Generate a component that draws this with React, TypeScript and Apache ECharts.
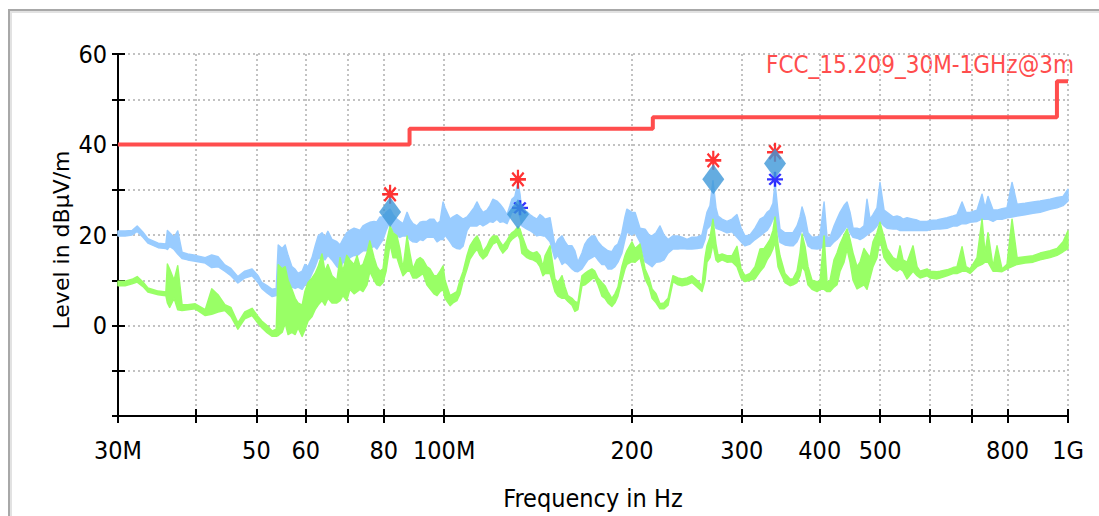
import React, { useEffect, useRef } from "react";
import * as echarts from "echarts";

// Frequency points (MHz) shared by both measured traces
const freqMHz = [
  30.0, 30.8, 31.6, 32.2, 32.9, 33.5, 34.8, 35.8, 36.0, 36.3,
  36.9, 37.4, 38.0, 38.8, 39.9, 41.4, 42.4, 43.4, 44.5, 45.5,
  46.7, 47.9, 49.2, 50.3, 51.0, 52.0, 53.0, 53.8, 54.2, 55.0,
  55.6, 56.2, 57.0, 57.7, 58.3, 59.2, 59.8, 60.5, 61.4, 62.1,
  62.8, 63.7, 64.4, 65.1, 66.1, 67.3, 68.1, 68.8, 69.8, 70.6,
  71.7, 72.5, 73.3, 74.1, 75.2, 76.0, 77.2, 78.0, 78.9, 79.8,
  80.7, 81.9, 82.8, 84.0, 84.9, 85.9, 87.2, 88.1, 89.1, 90.4,
  91.5, 92.5, 93.8, 94.9, 96.3, 97.4, 98.5, 99.6, 100.3, 102.2,
  103.3, 104.8, 106.0, 107.2, 108.8, 110.0, 111.6, 112.9, 114.1, 115.4,
  117.1, 118.4, 119.7, 121.5, 122.9, 124.2, 126.1, 127.5, 128.4, 129.8,
  131.3, 132.3, 133.2, 135.7, 137.2, 138.8, 140.8, 142.4, 144.0, 145.1,
  147.8, 150.5, 152.2, 154.5, 156.2, 157.9, 160.3, 162.0, 163.8, 166.3,
  168.1, 170.0, 172.5, 174.4, 176.4, 179.0, 181.0, 183.0, 185.7, 187.8,
  189.9, 192.7, 194.9, 196.3, 200.0, 202.3, 206.0, 209.9, 213.0, 215.4,
  218.6, 221.8, 225.1, 228.5, 232.7, 237.1, 240.6, 245.1, 249.6, 254.3,
  259.0, 261.9, 263.8, 266.8, 269.7, 272.7, 274.8, 278.9, 284.0, 289.3,
  294.7, 299.1, 303.5, 309.2, 315.0, 320.9, 325.6, 329.3, 332.9, 336.6,
  339.1, 342.9, 345.4, 351.8, 358.4, 362.4, 367.8, 371.9, 374.7, 378.8,
  383.0, 388.7, 396.0, 400.4, 406.4, 410.9, 415.5, 421.6, 426.3, 431.1,
  437.5, 442.4, 447.3, 452.3, 459.0, 464.1, 471.0, 476.2, 481.5, 486.9,
  494.1, 499.6, 507.1, 512.7, 524.2, 532.0, 537.9, 543.9, 552.0, 564.4,
  572.8, 579.2, 594.4, 601.0, 616.7, 623.5, 639.9, 654.2, 663.9, 676.3,
  686.3, 696.5, 714.8, 728.1, 736.2, 744.4, 758.2, 769.5, 783.8, 798.4,
  813.4, 828.6, 853.4, 878.9, 902.2, 936.0, 960.5, 981.9, 1000.0,
];

// Peak trace (light blue): lower / upper edge of the noisy band, dBµV/m
const peakLow = [
  19.8, 19.8, 20.0, 20.8, 19.5, 18.2, 17.2, 17.0, 16.8, 17.5,
  16.8, 15.8, 14.8, 14.5, 14.2, 13.8, 12.8, 13.0, 12.0, 11.0,
  9.4, 10.5, 11.0, 9.5, 8.2, 7.2, 6.4, 6.6, 7.0, 9.0,
  10.0, 9.0, 8.5, 8.2, 8.5, 8.0, 9.0, 9.5, 11.5, 13.0,
  14.8, 15.0, 14.5, 15.5, 14.5, 13.0, 12.5, 14.0, 13.5, 15.0,
  15.5, 15.4, 16.0, 16.5, 16.5, 17.0, 17.5, 16.9, 18.0, 19.0,
  21.0, 23.0, 21.0, 19.8, 19.5, 19.8, 19.8, 19.0, 18.5, 18.4,
  19.0, 18.8, 19.5, 19.5, 19.5, 18.5, 19.0, 19.0, 20.0, 18.5,
  17.5, 17.0, 16.9, 17.5, 21.0, 22.0, 22.0, 22.0, 22.5, 22.0,
  22.5, 23.0, 22.8, 23.5, 22.8, 23.0, 22.5, 24.0, 25.1, 25.0,
  25.5, 24.0, 22.0, 21.3, 21.0, 20.5, 19.8, 20.0, 19.8, 19.8,
  18.5, 14.7, 15.5, 13.5, 14.0, 13.5, 12.5, 12.0, 11.9, 12.5,
  13.5, 14.5, 15.0, 15.4, 14.5, 13.5, 13.5, 12.5, 12.5, 13.0,
  14.0, 16.0, 19.0, 20.7, 20.0, 20.5, 18.5, 14.1, 13.5, 13.0,
  14.0, 14.1, 14.5, 16.0, 16.9, 16.9, 17.0, 16.9, 16.9, 17.0,
  17.2, 19.0, 21.3, 22.0, 23.0, 21.5, 21.3, 21.0, 20.5, 20.7,
  19.5, 18.5, 17.6, 18.0, 19.0, 19.8, 20.5, 21.0, 22.0, 23.5,
  24.0, 20.5, 18.4, 17.8, 17.6, 17.6, 18.5, 20.0, 21.3, 19.5,
  17.6, 17.0, 16.9, 17.0, 17.5, 17.5, 17.5, 18.5, 19.0, 19.8,
  21.0, 22.0, 20.5, 19.5, 19.3, 19.0, 19.5, 20.0, 20.5, 21.0,
  22.0, 23.0, 22.0, 21.5, 21.3, 21.3, 21.0, 21.0, 21.0, 21.0,
  21.0, 21.0, 21.0, 21.2, 21.3, 21.3, 21.5, 22.0, 22.0, 22.5,
  22.5, 22.8, 23.0, 23.5, 23.5, 23.5, 23.0, 23.5, 23.5, 23.8,
  24.0, 24.2, 24.5, 24.8, 25.0, 25.7, 26.0, 26.5, 27.5,
];
const peakHigh = [
  20.9, 20.9, 21.0, 22.0, 20.6, 19.2, 18.2, 18.0, 21.0, 20.5,
  19.5, 20.9, 16.2, 15.8, 15.5, 15.0, 15.6, 15.2, 13.4, 12.6,
  10.8, 12.0, 12.5, 11.0, 9.5, 8.8, 8.0, 8.2, 17.8, 17.0,
  17.8, 15.5, 13.0, 12.4, 11.5, 12.0, 13.5, 13.0, 15.0, 17.5,
  19.8, 20.5, 19.5, 20.8, 19.0, 18.5, 17.8, 19.0, 20.5, 21.0,
  21.5, 21.3, 21.0, 22.0, 22.5, 22.8, 23.0, 22.9, 24.0, 24.0,
  25.0, 25.7, 24.5, 23.5, 23.0, 22.5, 25.0, 23.5, 22.5, 22.0,
  22.8, 23.0, 23.0, 23.5, 23.5, 22.5, 23.0, 27.3, 26.0, 23.5,
  24.0, 24.5, 24.0, 23.5, 24.0, 24.8, 26.0, 27.3, 26.0, 25.0,
  25.5, 26.5, 27.9, 27.5, 26.8, 26.0, 24.5, 26.5, 27.9, 28.5,
  31.6, 29.0, 25.0, 25.1, 24.5, 24.0, 23.5, 24.5, 24.0, 23.5,
  23.8, 17.6, 19.0, 19.8, 18.5, 17.6, 17.6, 16.5, 14.0, 16.0,
  18.0, 19.0, 19.8, 19.8, 18.5, 17.5, 17.0, 16.5, 16.3, 17.5,
  18.0, 20.5, 24.0, 25.7, 25.0, 25.0, 21.5, 21.3, 20.0, 19.8,
  20.5, 22.0, 20.0, 19.0, 19.8, 19.8, 19.5, 19.0, 19.5, 19.5,
  20.0, 23.0, 25.0, 26.5, 32.0, 26.0, 24.2, 23.5, 23.0, 23.5,
  24.5, 21.5, 19.8, 20.0, 21.5, 23.5, 24.0, 25.0, 25.5, 27.0,
  31.6, 25.0, 21.3, 20.5, 20.5, 20.5, 22.0, 24.0, 26.2, 24.0,
  20.5, 19.5, 19.6, 19.8, 27.3, 19.5, 19.5, 22.0, 23.5, 25.0,
  26.5, 27.3, 25.0, 21.5, 21.5, 21.3, 22.0, 27.9, 23.5, 24.5,
  26.0, 31.6, 25.5, 25.0, 24.0, 24.2, 24.0, 23.5, 23.8, 23.5,
  23.3, 23.0, 23.0, 23.2, 23.3, 23.5, 23.8, 24.2, 24.5, 27.3,
  25.0, 25.0, 25.5, 29.0, 26.0, 28.5, 25.5, 25.5, 25.8, 26.0,
  31.6, 26.8, 27.0, 27.3, 27.5, 27.9, 28.3, 28.5, 30.1,
];

// Average trace (light green): lower / upper edge of the noisy band, dBµV/m
const avgLow = [
  8.8, 8.8, 9.2, 9.6, 8.6, 7.4, 6.8, 6.6, 5.0, 4.0,
  6.0, 3.5, 3.3, 3.5, 3.7, 2.2, 2.5, 3.0, 3.3, 2.0,
  -0.8, 1.5, 2.2, 0.5, -0.5, -1.6, -2.4, -2.4, -2.2, -1.5,
  0.5, -2.0, -1.5, -2.0, -0.5, -2.4, -1.0, 1.0, 2.0, 3.5,
  4.5, 5.5, 4.5, 6.0, 5.0, 5.0, 5.5, 6.6, 5.5, 8.0,
  7.0, 7.5, 8.0, 7.5, 9.0, 11.9, 10.0, 9.0, 8.8, 9.5,
  12.0, 18.0, 15.0, 15.0, 13.0, 11.0, 12.0, 12.0, 10.5, 10.5,
  11.0, 11.5, 9.0, 8.1, 7.0, 6.6, 7.5, 8.0, 6.0, 4.4,
  5.0, 5.5, 7.0, 9.7, 12.5, 14.7, 16.0, 16.9, 15.5, 14.7,
  15.5, 16.9, 18.0, 18.5, 17.0, 16.0, 17.0, 18.5, 19.0, 19.5,
  20.0, 19.0, 16.0, 15.0, 14.7, 14.5, 14.0, 13.0, 11.0, 11.5,
  11.5, 7.5, 6.5, 6.0, 6.0, 5.3, 4.5, 3.1, 3.5, 8.8,
  9.0, 9.5, 10.3, 10.5, 9.0, 6.5, 6.0, 5.0, 4.2, 5.0,
  6.5, 10.0, 12.5, 13.5, 14.1, 14.0, 15.0, 10.3, 8.5, 6.0,
  5.0, 3.7, 3.7, 4.5, 9.7, 9.0, 8.8, 9.0, 9.5, 8.5,
  7.5, 10.0, 14.0, 15.0, 18.0, 14.5, 14.0, 14.5, 14.0, 14.1,
  13.0, 10.5, 9.7, 10.0, 10.3, 11.9, 13.0, 14.5, 15.5, 17.0,
  18.5, 13.0, 11.9, 9.5, 8.8, 9.0, 9.5, 11.0, 13.0, 12.0,
  9.0, 8.0, 7.5, 8.0, 8.0, 7.5, 7.5, 8.5, 9.0, 12.0,
  14.0, 16.9, 14.0, 10.0, 8.1, 8.5, 9.0, 8.0, 10.5, 13.0,
  15.0, 19.0, 15.0, 14.0, 12.5, 12.0, 12.5, 12.0, 10.3, 12.0,
  11.0, 10.5, 11.0, 10.5, 10.3, 10.5, 11.0, 11.5, 11.5, 12.0,
  12.0, 11.5, 13.0, 13.5, 14.0, 14.0, 12.0, 12.0, 11.9, 12.5,
  13.0, 13.5, 13.8, 14.0, 14.5, 15.0, 15.5, 16.3, 17.0,
];
const avgHigh = [
  9.8, 9.8, 10.2, 10.8, 9.6, 8.3, 7.6, 7.4, 13.6, 12.5,
  10.0, 13.2, 4.6, 4.6, 4.8, 3.5, 8.1, 6.8, 4.6, 4.0,
  0.6, 3.0, 3.8, 2.0, 1.0, 0.0, -1.2, -0.8, 13.4, 12.5,
  13.0, 10.0, 8.0, 6.0, 5.0, 4.5, 7.5, 9.5, 10.5, 11.5,
  13.0, 15.8, 12.0, 13.5, 11.0, 10.0, 15.0, 12.0, 15.5, 14.5,
  13.5, 15.4, 13.0, 13.5, 16.0, 18.7, 15.0, 13.0, 12.0, 12.5,
  18.0, 22.0, 20.5, 19.8, 17.0, 12.5, 19.8, 16.0, 12.5, 14.5,
  15.0, 14.5, 13.0, 12.5, 11.0, 11.0, 12.0, 13.2, 10.0, 6.6,
  7.0, 7.5, 10.0, 11.9, 15.5, 17.6, 19.0, 19.8, 18.5, 16.3,
  17.5, 19.0, 19.8, 19.8, 18.5, 17.6, 18.8, 20.0, 20.5, 21.0,
  21.8, 21.3, 20.0, 16.9, 16.3, 16.0, 16.3, 15.5, 13.0, 15.4,
  17.6, 10.3, 9.5, 11.0, 8.5, 6.6, 6.0, 5.3, 5.0, 11.0,
  11.5, 12.0, 12.5, 12.0, 10.5, 9.5, 8.8, 7.5, 6.0, 7.0,
  8.5, 13.0, 15.4, 16.5, 18.5, 17.0, 18.0, 12.5, 10.5, 8.1,
  7.0, 4.8, 5.0, 6.0, 11.0, 10.5, 10.3, 10.5, 11.0, 10.0,
  8.8, 15.0, 17.6, 19.5, 23.5, 18.0, 15.5, 15.8, 15.4, 15.4,
  17.5, 12.5, 11.0, 11.5, 13.0, 16.9, 17.0, 18.0, 19.0, 21.0,
  24.0, 18.0, 15.4, 11.5, 10.3, 10.3, 12.0, 16.0, 20.2, 17.5,
  13.0, 10.0, 9.7, 9.7, 19.8, 9.5, 10.0, 14.5, 16.0, 18.0,
  20.0, 21.3, 19.0, 16.0, 13.0, 14.0, 17.0, 16.0, 15.0, 18.5,
  20.5, 22.8, 19.5, 17.0, 15.0, 14.5, 17.6, 14.5, 14.0, 17.6,
  13.0, 12.0, 12.5, 12.0, 11.9, 12.0, 12.3, 12.8, 13.0, 17.4,
  13.0, 12.5, 15.0, 23.5, 16.0, 20.5, 13.0, 17.6, 12.5, 13.5,
  23.5, 15.0, 15.2, 15.4, 16.0, 16.5, 17.0, 18.5, 20.9,
];

// FCC 15.209 limit line
const limitFreq = [30, 88, 88, 216, 216, 960, 960, 1000];
const limitLevel = [40, 40, 43.5, 43.5, 46, 46, 54, 54];
const limitName = "FCC_15.209_30M-1GHz@3m";

// Markers
const peakMarkFreq = [81.9, 131.3, 270.0, 339.1];
const peakMarkLevel = [29.0, 32.3, 36.5, 38.3];
const qpFreq = [81.9, 131.3, 270.0, 339.1];
const qpLevel = [25.1, 24.6, 32.3, 35.8];
const avgMarkFreq = [132.3, 339.1];
const avgMarkLevel = [26.0, 32.3];

// Axis ticks / labels
const xTickValues = [30, 40, 50, 60, 70, 80, 100, 200, 300, 400, 500, 600, 700, 800, 1000];
const xLabelValues = [30, 50, 60, 80, 100, 200, 300, 400, 500, 800, 1000];
const xLabels = ["30M", "50", "60", "80", "100M", "200", "300", "400", "500", "800", "1G"];
const yLabelValues = [0, 20, 40, 60];
const yTitle = "Level in dBµV/m";
const xTitle = "Frequency in Hz";

const NARROW = '"DejaVu Sans Condensed", "Liberation Sans", sans-serif';
const STAR = "path://M7 0V14M0 7H14M2 2L12 12M2 12L12 2";

function bandSeries(name: string, lo: number[], hi: number[], color: string) {
  return {
    type: "custom",
    name,
    data: freqMHz.map((f, i) => [f, lo[i], hi[i]]),
    encode: { x: 0, y: [1, 2] },
    silent: true,
    renderItem: (params: any, api: any) => {
      if (params.dataIndexInside !== 0) return null;
      const n = params.dataInsideLength;
      const top: number[][] = [];
      const bottom: number[][] = [];
      for (let i = 0; i < n; i++) {
        const x = api.value(0, i);
        top.push(api.coord([x, api.value(2, i)]));
        bottom.push(api.coord([x, api.value(1, i)]));
      }
      return {
        type: "polygon",
        shape: { points: top.concat(bottom.reverse()) },
        style: { fill: color, stroke: color, lineWidth: 1.5, lineJoin: "round" },
      };
    },
  };
}

export default function App() {
  const ref = useRef<HTMLDivElement>(null);
  useEffect(() => {
    if (!ref.current) return;
    const chart = echarts.init(ref.current, null, { renderer: "svg" });
    const tickStyle = { color: "#000", width: 2 };
    const gridLine = { show: true, lineStyle: { color: "#c2c2c2", width: 2, type: [2, 3] } };
    const xFmt = (v: number) => {
      const i = xLabelValues.findIndex((t) => Math.abs(t - v) / t < 0.01);
      return i >= 0 ? xLabels[i] : "";
    };
    chart.setOption({
      animation: false,
      backgroundColor: "#fff",
      grid: { left: 118, right: 31, top: 54, bottom: 98, containLabel: false },
      xAxis: [
        {
          type: "log",
          logBase: 10,
          min: 30,
          max: 1000,
          axisLine: { show: true, onZero: false, lineStyle: { color: "#000", width: 2 } },
          axisTick: { show: true, customValues: xTickValues, length: 7, lineStyle: tickStyle },
          axisLabel: {
            customValues: xLabelValues,
            formatter: xFmt,
            margin: 22,
            fontFamily: NARROW,
            fontSize: 25,
            color: "#000",
          },
          minorTick: { show: false },
          minorSplitLine: { show: false },
          splitLine: gridLine,
          name: xTitle,
          nameLocation: "middle",
          nameGap: 70,
          nameTextStyle: { fontFamily: NARROW, fontSize: 25, color: "#000", verticalAlign: "top" },
        },
        {
          type: "log",
          logBase: 10,
          min: 30,
          max: 1000,
          position: "bottom",
          axisLine: { show: false, onZero: false },
          axisTick: { show: true, inside: true, customValues: xTickValues, length: 7, lineStyle: tickStyle },
          axisLabel: { show: false },
          splitLine: { show: false },
          minorTick: { show: false },
        },
      ],
      yAxis: [
        {
          type: "value",
          min: -20,
          max: 60,
          interval: 10,
          axisLine: { show: true, onZero: false, lineStyle: { color: "#000", width: 2 } },
          axisTick: { show: true, length: 6, lineStyle: tickStyle },
          axisLabel: {
            formatter: (v: number) => (yLabelValues.includes(v) ? String(v) : ""),
            margin: 11,
            fontFamily: NARROW,
            fontSize: 25,
            color: "#000",
          },
          splitLine: gridLine,
        },
        {
          type: "value",
          min: -20,
          max: 60,
          interval: 10,
          position: "left",
          axisLine: { show: false, onZero: false },
          axisTick: { show: true, inside: true, length: 7, lineStyle: tickStyle },
          axisLabel: { show: false },
          splitLine: { show: false },
        },
      ],
      graphic: [
        {
          type: "rect",
          silent: true,
          shape: { x: 9, y: 10, width: 1200, height: 600 },
          style: { fill: "none", stroke: "#a8a8a8", lineWidth: 2 },
        },
        {
          type: "rect",
          silent: true,
          shape: { x: 11, y: 12, width: 1200, height: 600 },
          style: { fill: "none", stroke: "#e2e2e2", lineWidth: 2 },
        },
        {
          type: "text",
          right: 25,
          top: 53,
          silent: true,
          style: { text: limitName, fill: "#ff4d4d", fontSize: 24, fontFamily: NARROW },
        },
        {
          type: "text",
          x: 61,
          y: 240,
          rotation: Math.PI / 2,
          silent: true,
          style: {
            text: yTitle,
            fill: "#000",
            fontSize: 22,
            fontFamily: "DejaVu Sans",
            align: "center",
            verticalAlign: "middle",
          },
        },
      ],
      series: [
        bandSeries("Peak", peakLow, peakHigh, "#99ccff"),
        bandSeries("Average", avgLow, avgHigh, "#99ff66"),
        {
          type: "line",
          name: limitName,
          data: limitFreq.map((f, i) => [f, limitLevel[i]]),
          showSymbol: false,
          symbol: "none",
          lineStyle: { color: "#ff4d4d", width: 4 },
          silent: true,
        },
        {
          type: "scatter",
          name: "Peak marker",
          data: peakMarkFreq.map((f, i) => [f, peakMarkLevel[i]]),
          symbol: STAR,
          symbolSize: [16, 19],
          itemStyle: { color: "rgba(0,0,0,0)", borderColor: "#ff0000", borderWidth: 2.4 },
          silent: true,
        },
        {
          type: "scatter",
          name: "Average marker",
          data: avgMarkFreq.map((f, i) => [f, avgMarkLevel[i]]),
          symbol: STAR,
          symbolSize: [16, 15],
          itemStyle: { color: "rgba(0,0,0,0)", borderColor: "#0000ff", borderWidth: 2.4 },
          silent: true,
        },
        {
          type: "scatter",
          name: "QP",
          data: qpFreq.map((f, i) => [f, qpLevel[i]]),
          symbol: "diamond",
          symbolSize: [22, 30],
          itemStyle: { color: "#3d97d8" },
          silent: true,
        },
      ],
    });
    return () => chart.dispose();
  }, []);
  return (
    <div
      ref={ref}
      style={{ position: "fixed", left: 0, top: 0, width: 1099, height: 516, background: "#fff" }}
    />
  );
}
